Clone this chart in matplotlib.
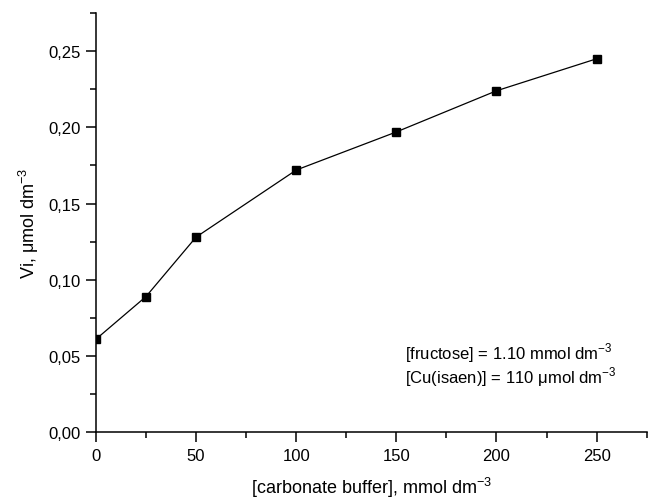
import matplotlib

matplotlib.use("Agg")
import matplotlib.pyplot as plt
from matplotlib.ticker import MultipleLocator, FuncFormatter

# initial rate vs. carbonate buffer concentration
buffer_conc = [0, 25, 50, 100, 150, 200, 250]
rate = [0.061, 0.089, 0.128, 0.172, 0.197, 0.224, 0.245]

plt.rcParams["font.family"] = ["Liberation Sans", "DejaVu Sans"]
plt.rcParams["mathtext.fontset"] = "custom"
plt.rcParams["mathtext.rm"] = "Liberation Sans"

fig = plt.figure(figsize=(6.48, 5.02), dpi=100)
ax = fig.add_axes([0.148, 0.137, 0.850, 0.835])

ax.plot(buffer_conc, rate, color="black", lw=0.9, marker="s", ms=6,
        mec="black", mfc="black")

ax.set_xlim(0, 275)
ax.set_ylim(0, 0.275)
ax.xaxis.set_major_locator(MultipleLocator(50))
ax.xaxis.set_minor_locator(MultipleLocator(25))
ax.yaxis.set_major_locator(MultipleLocator(0.05))
ax.yaxis.set_minor_locator(MultipleLocator(0.025))
ax.yaxis.set_major_formatter(FuncFormatter(lambda v, p: f"{v:.2f}".replace(".", ",")))

for side in ("top", "right"):
    ax.spines[side].set_visible(False)
for side in ("left", "bottom"):
    ax.spines[side].set_linewidth(1.1)

ax.tick_params(which="major", direction="out", length=7, width=1.1, labelsize=12, pad=4)
ax.tick_params(which="minor", direction="out", length=4, width=1.1)

ax.set_xlabel("[carbonate buffer], mmol dm$^{-3}$", fontsize=13, labelpad=9)
ax.set_ylabel("Vi, \u03bcmol dm$^{-3}$", fontsize=13, labelpad=5)

ax.text(0.561, 0.191, "[fructose] = 1.10 mmol dm$^{-3}$",
        transform=ax.transAxes, fontsize=12, ha="left", va="center")
ax.text(0.561, 0.134, "[Cu(isaen)] = 110 \u03bcmol dm$^{-3}$",
        transform=ax.transAxes, fontsize=12, ha="left", va="center")

fig.savefig("out.png", dpi=100, facecolor="white")
